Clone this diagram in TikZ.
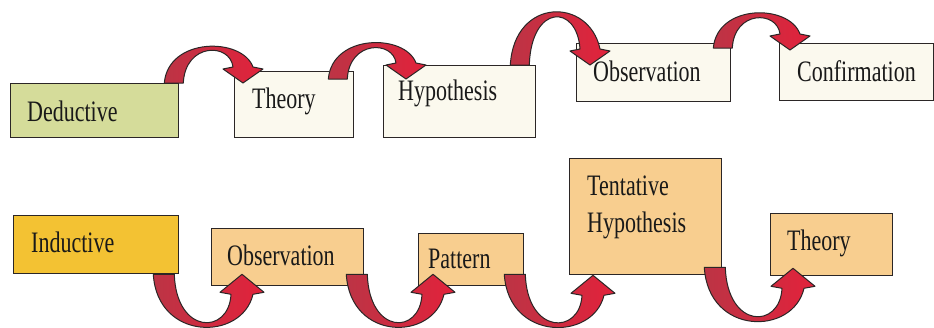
\documentclass[tikz,border=0pt]{standalone}
\usepackage{fontspec}
\usepackage{graphicx}
\setmainfont{Liberation Serif}
\usetikzlibrary{calc}
\definecolor{dedgreen}{HTML}{D5DC9A}
\definecolor{ivory}{HTML}{FBF9EE}
\definecolor{indgold}{HTML}{F3C233}
\definecolor{peach}{HTML}{F8CE8F}
\definecolor{arrowdark}{HTML}{BC3445}
\definecolor{arrowred}{HTML}{E2223B}
\definecolor{edge}{HTML}{2B2626}
\newcommand\tall[1]{\scalebox{1}[1.35]{#1}}
\tikzset{
  box/.style={draw=edge, line width=1.3pt, rectangle, anchor=north west, inner sep=0pt},
  lbl/.style={anchor=base west, inner sep=0pt, font=\fontsize{22}{26}\selectfont, text=black!90},
  ribbon/.style={draw=edge, line width=1pt, line join=round, left color=arrowdark, right color=arrowred}
}
% arc over the top, pointing down: #1 base-left, #2 tip, #3 outer rise, #4 inner rise
\newcommand\arcdn[4]{%
  \path[ribbon] let \p1=#1, \p2=#2 in
    (\x1,\y1) .. controls ({\x1+4pt},{\y1+#3pt}) and ({\x2-1pt},{\y1+#3pt}) .. ({\x2+10pt},{\y2+16pt})
    -- ({\x2+20pt},{\y2+14pt}) -- (\x2,\y2) -- ({\x2-20pt},{\y2+14pt}) -- ({\x2-10pt},{\y2+16pt})
    .. controls ({\x2-13pt},{\y1+#4pt}) and ({\x1+21pt},{\y1+#4pt}) .. ({\x1+19pt},\y1) -- cycle;}
% arc under the bottom, pointing up
\newcommand\arcup[4]{%
  \path[ribbon] let \p1=#1, \p2=#2 in
    (\x1,\y1) .. controls ({\x1+4pt},{\y1-#3pt}) and (\x2,{\y1-#3pt}) .. ({\x2+11pt},{\y2-20pt})
    -- ({\x2+22pt},{\y2-18pt}) -- (\x2,\y2) -- ({\x2-22pt},{\y2-18pt}) -- ({\x2-11pt},{\y2-20pt})
    .. controls ({\x2-13pt},{\y1-#4pt}) and ({\x1+23pt},{\y1-#4pt}) .. ({\x1+21pt},\y1) -- cycle;}
\begin{document}
\begin{tikzpicture}[x=1pt,y=-1pt]
\useasboundingbox[fill=white] (0,0) rectangle (934,327);
% top row boxes
\node[box, fill=dedgreen, minimum width=168pt, minimum height=54pt] (ded) at (10,83) {};
\node[box, fill=ivory, minimum width=119pt, minimum height=66pt] (th1) at (234,71) {};
\node[box, fill=ivory, minimum width=152pt, minimum height=72pt] (hyp1) at (383,65) {};
\node[box, fill=ivory, minimum width=154pt, minimum height=58pt] (obs1) at (576,43) {};
\node[box, fill=ivory, minimum width=154pt, minimum height=57pt] (conf) at (779,43) {};
% bottom row boxes
\node[box, fill=indgold, minimum width=165pt, minimum height=58pt] (ind) at (13,215) {};
\node[box, fill=peach, minimum width=152pt, minimum height=57pt] (obs2) at (211,228) {};
\node[box, fill=peach, minimum width=105pt, minimum height=52pt] (pat) at (418,233) {};
\node[box, fill=peach, minimum width=152pt, minimum height=116pt] (tent) at (569,158) {};
\node[box, fill=peach, minimum width=122pt, minimum height=62pt] (th2) at (770,213) {};
% top arrows
\arcdn{($(ded.north east)+(-15,0)$)}{($(th1.north west)+(9,12)$)}{46}{40.5}
\arcdn{($(th1.north east)+(-26,8)$)}{($(hyp1.north west)+(23,14)$)}{45.5}{38.7}
\arcdn{($(hyp1.north east)+(-26,0)$)}{($(obs1.north west)+(14,22)$)}{68}{61.3}
\arcdn{($(obs1.north east)+(-18,5)$)}{($(conf.north west)+(11,7)$)}{44.3}{37.7}
% bottom arrows
\arcup{($(ind.south east)+(-26,0)$)}{($(obs2.south west)+(31,-12)$)}{67}{60.7}
\arcup{($(obs2.south east)+(-18,-12)$)}{($(pat.south west)+(15,-12)$)}{67}{60.7}
\arcup{($(pat.south east)+(-20,-12)$)}{($(tent.south west)+(24,0)$)}{67}{60.7}
\arcup{($(tent.south east)+(-18,-8)$)}{($(th2.south west)+(23,-8)$)}{68.5}{61.9}
% labels
\node[lbl] (tded) at (27,121) {\tall{Deductive}};
\node[lbl] (tth1) at (252,108) {\tall{Theory}};
\node[lbl] (thyp1) at (398,100) {\tall{Hypothesis}};
\node[lbl] (tobs1) at (593,81) {\tall{Observation}};
\node[lbl] (tconf) at (797,81) {\tall{Confirmation}};
\node[lbl] (tind) at (31,252) {\tall{Inductive}};
\node[lbl] (tobs2) at (227,265) {\tall{Observation}};
\node[lbl] (tpat) at (428,268) {\tall{Pattern}};
\node[lbl] (ttent) at (587,195) {\tall{Tentative}};
\node[lbl] (thyp2) at (587,232) {\tall{Hypothesis}};
\node[lbl] (tth2) at (787,250) {\tall{Theory}};
\end{tikzpicture}
\end{document}
